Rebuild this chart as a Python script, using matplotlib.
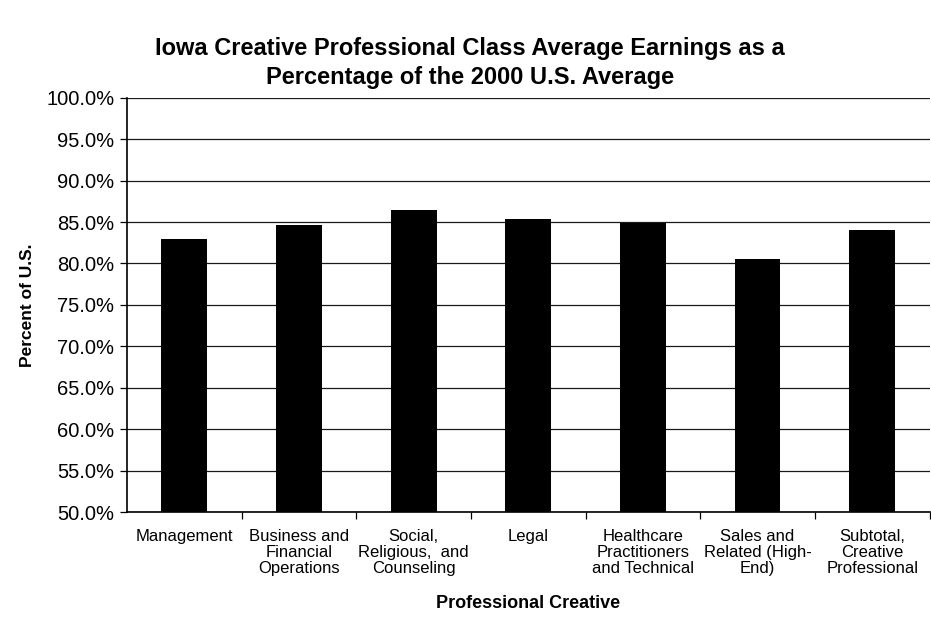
import matplotlib.pyplot as plt
from matplotlib.ticker import FuncFormatter, MultipleLocator

plt.rcParams['font.family'] = ['Liberation Sans', 'DejaVu Sans']

categories = [
    'Management',
    'Business and\nFinancial\nOperations',
    'Social,\nReligious,  and\nCounseling',
    'Legal',
    'Healthcare\nPractitioners\nand Technical',
    'Sales and\nRelated (High-\nEnd)',
    'Subtotal,\nCreative\nProfessional',
]
pct_of_us = [82.9, 84.6, 86.5, 85.4, 84.9, 80.5, 84.1]

fig = plt.figure(figsize=(9.31, 6.21), dpi=100)
ax = fig.add_axes([0.1364, 0.1755, 0.862, 0.667])

n = len(categories)
x = list(range(n))
ax.bar(x, pct_of_us, width=0.4, color='black', zorder=3)

ax.set_ylim(50, 100)
ax.set_xlim(-0.5, n - 0.5)
ax.yaxis.set_major_locator(MultipleLocator(5))
ax.yaxis.set_major_formatter(FuncFormatter(lambda v, _: f'{v:.1f}%'))
ax.grid(axis='y', color='#1a1a1a', linewidth=0.9, zorder=0)

# labels sit at the category centres, small tick marks at the boundaries
ax.set_xticks(x)
ax.set_xticklabels(categories, fontsize=12, linespacing=1.08, va='top')
ax.set_xticks([i + 0.5 for i in range(n)], minor=True)
ax.tick_params(axis='x', which='major', length=0, pad=12)
ax.tick_params(axis='x', which='minor', length=5, width=0.9, direction='out')
ax.tick_params(axis='y', labelsize=14.5, length=5, direction='out', width=0.9, pad=4)

for side in ['top', 'right']:
    ax.spines[side].set_visible(False)
ax.spines['left'].set_linewidth(1.2)
ax.spines['bottom'].set_linewidth(1.2)

ax.set_ylabel('Percent of U.S.', fontsize=12.5, fontweight='bold', labelpad=8)
ax.set_xlabel('Professional Creative', fontsize=13, fontweight='bold', labelpad=14)

fig.text(0.505, 0.94, 'Iowa Creative Professional Class Average Earnings as a\n'
         'Percentage of the 2000 U.S. Average',
         ha='center', va='top', fontsize=17, fontweight='bold', linespacing=1.3)

fig.savefig('out.png', dpi=100, facecolor='white')
